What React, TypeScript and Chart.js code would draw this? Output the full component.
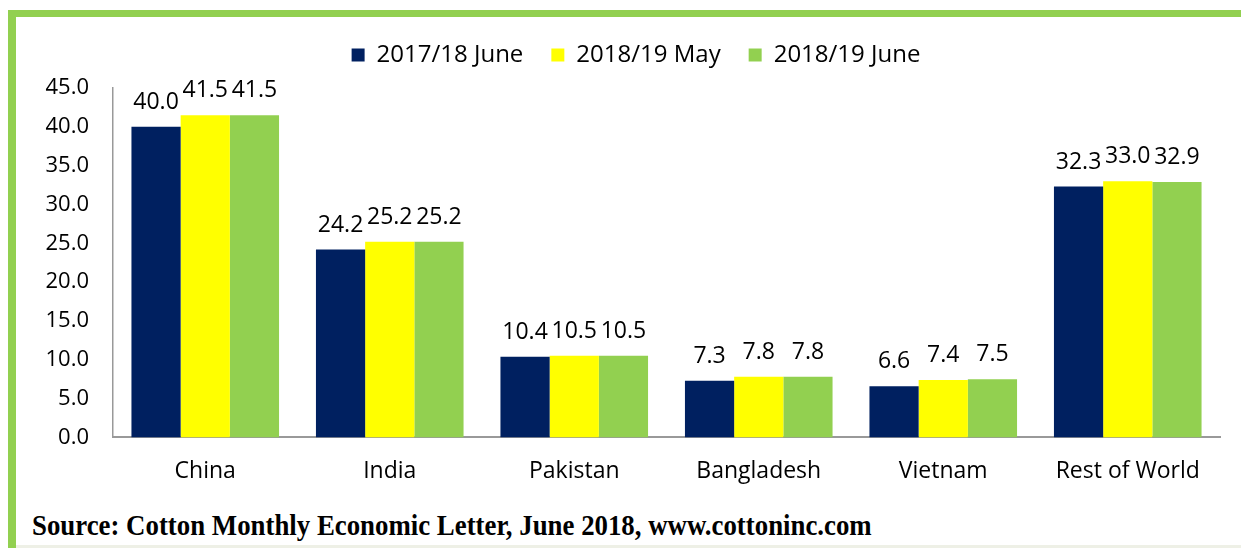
import React, { useEffect, useRef } from "react";
import { Chart, registerables } from "chart.js";

Chart.register(...registerables);

const categories = ["China", "India", "Pakistan", "Bangladesh", "Vietnam", "Rest of World"];
const seriesNames = ["2017/18 June", "2018/19 May", "2018/19 June"];
const s2017June = [40.0, 24.2, 10.4, 7.3, 6.6, 32.3];
const s2018May = [41.5, 25.2, 10.5, 7.8, 7.4, 33.0];
const s2018June = [41.5, 25.2, 10.5, 7.8, 7.5, 32.9];
const seriesColors = ["#002060", "#FFFF00", "#92D050"];
const yTicks = { min: 0, max: 45, step: 5 };
const sourceText = "Source: Cotton Monthly Economic Letter, June 2018, www.cottoninc.com";

const FONT = "Open Sans";

const valueLabels = {
  id: "valueLabels",
  afterDatasetsDraw(chart: any) {
    const ctx = chart.ctx;
    ctx.save();
    ctx.font = `23px "${FONT}"`;
    ctx.fillStyle = "#000";
    ctx.textAlign = "center";
    ctx.textBaseline = "alphabetic";
    chart.data.datasets.forEach((ds: any, di: number) => {
      const meta = chart.getDatasetMeta(di);
      meta.data.forEach((bar: any, i: number) => {
        const v = ds.data[i];
        ctx.fillText(v.toFixed(1), bar.x, bar.y - 18);
      });
    });
    ctx.restore();
  },
};

const legendTweak = {
  id: "legendTweak",
  afterInit(chart: any) {
    const lg = chart.legend;
    if (!lg || lg.__patched) return;
    const orig = lg.fit.bind(lg);
    lg.fit = function () {
      orig();
      this.height += 11;
    };
    lg.__patched = true;
  },
  afterLayout(chart: any) {
    const lg = chart.legend;
    if (!lg) return;
    lg.left += 26;
    lg.right += 26;
  },
};

export default function App() {
  const ref = useRef<HTMLCanvasElement | null>(null);
  useEffect(() => {
    if (!ref.current) return;
    const chart = new Chart(ref.current, {
      type: "bar",
      data: {
        labels: categories,
        datasets: [s2017June, s2018May, s2018June].map((d, i) => ({
          label: seriesNames[i],
          data: d,
          backgroundColor: seriesColors[i],
          borderWidth: 0,
          categoryPercentage: 0.8,
          barPercentage: 1.0,
        })),
      },
      options: {
        animation: false,
        responsive: false,
        maintainAspectRatio: false,
        layout: { padding: { left: 0, right: 21, top: 15, bottom: 0 } },
        plugins: {
          legend: {
            position: "top",
            labels: {
              boxWidth: 13,
              boxHeight: 13,
              font: { family: FONT, size: 24 },
              color: "#000",
              padding: 28,
            },
          },
          tooltip: { enabled: false },
          title: { display: false },
        },
        scales: {
          x: {
            grid: { display: false, drawTicks: false },
            border: { display: true, color: "#999999", width: 2 },
            ticks: { font: { family: FONT, size: 23 }, color: "#000", padding: 20 },
          },
          y: {
            min: yTicks.min,
            max: yTicks.max,
            grid: { display: false, drawTicks: false },
            border: { display: true, color: "#999999", width: 1.5 },
            ticks: {
              stepSize: yTicks.step,
              font: { family: FONT, size: 22 },
              color: "#000",
              padding: 24,
              callback: (v: any) => Number(v).toFixed(1),
            },
            afterFit: (s: any) => {
              s.width = 113;
            },
          },
        },
      },
      plugins: [valueLabels, legendTweak],
    });
    return () => chart.destroy();
  }, []);

  return (
    <div style={{ position: "absolute", left: 0, top: 0, width: 1241, height: 548, background: "#fff", overflow: "hidden" }}>
      <div style={{ position: "absolute", left: 8, top: 10, width: 1233, height: 538, borderLeft: "8px solid #92D050", borderTop: "7px solid #92D050", boxSizing: "border-box" }} />
      <div style={{ position: "absolute", left: 16, top: 545, width: 1225, height: 3, background: "#EEF0E6" }} />
      <canvas ref={ref} width={1241} height={505} style={{ position: "absolute", left: 0, top: 0, width: 1241, height: 505 }} />
      <div
        style={{
          position: "absolute",
          left: 32,
          top: 511,
          fontFamily: '"Liberation Serif", "Times New Roman", serif',
          fontWeight: "bold",
          fontSize: 29,
          lineHeight: "29px",
          whiteSpace: "nowrap",
          color: "#000",
          transform: "scaleX(0.925)",
          transformOrigin: "left top",
        }}
      >
        {sourceText}
      </div>
    </div>
  );
}
